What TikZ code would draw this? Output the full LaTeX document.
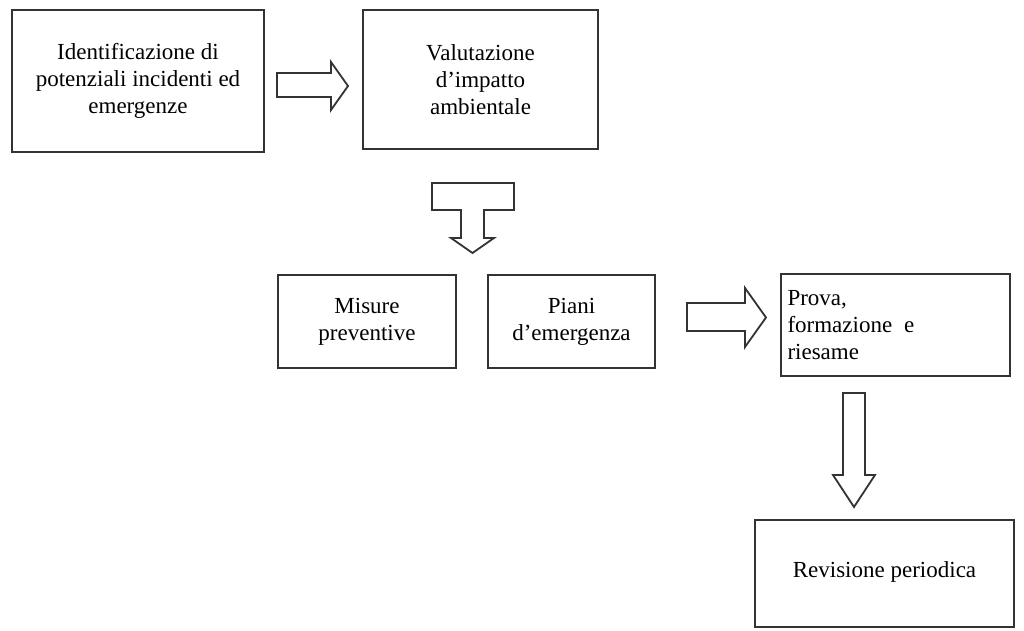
\documentclass[tikz,border=0pt]{standalone}
\usepackage{fontspec}
\setmainfont{Liberation Serif}
\usepackage{tikz}
\usetikzlibrary{positioning}

\begin{document}
\begin{tikzpicture}[
  x=0.5pt, y=-0.5pt,
  box/.style={draw=black!80, line width=1pt, rectangle, align=center, font=\fontsize{11.5}{13.5}\selectfont},
  blockarr/.style={draw=black!80, line width=0.9pt, fill=white, line join=miter},
]
  \useasboundingbox (0,0) rectangle (1024,631);

  \node[box, minimum width=126pt, minimum height=71pt]   (ident)  at (138,81)    {Identificazione di\\potenziali incidenti ed\\emergenze};
  \node[box, minimum width=117.5pt, minimum height=69.5pt] (valut) at (480.5,79.5) {Valutazione\\d'impatto\\ambientale};
  \node[box, minimum width=89pt, minimum height=46.5pt]  (misure) at (367,321.5)  {Misure\\preventive};
  \node[box, minimum width=83.5pt, minimum height=46.5pt] (piani) at (571.5,321.5) {Piani\\d'emergenza};
  \node[box, minimum width=114.5pt, minimum height=51pt, text width=108pt, inner sep=3pt, align=left] (prova) at (895.5,325) {Prova,\\formazione\hspace{6pt}e\\riesame};
  \node[box, minimum width=129.5pt, minimum height=53.5pt] (revis) at (884.5,573.5) {\raisebox{4pt}{Revisione periodica}};

  % block arrows
  \draw[blockarr] (277,73) -- (331,73) -- (331,62) -- (348,86) -- (331,110) -- (331,97) -- (277,97) -- cycle;
  \draw[blockarr] (432,183) -- (514,183) -- (514,210) -- (484,210) -- (484,238) -- (494,238) -- (472.5,253)
    -- (451,238) -- (461,238) -- (461,210) -- (432,210) -- cycle;
  \draw[blockarr] (687,303) -- (745,303) -- (745,288) -- (766,317.5) -- (745,347) -- (745,331) -- (687,331) -- cycle;
  \draw[blockarr] (843,393) -- (865,393) -- (865,475) -- (875,475) -- (854,507) -- (833,475) -- (843,475) -- cycle;
\end{tikzpicture}
\end{document}
